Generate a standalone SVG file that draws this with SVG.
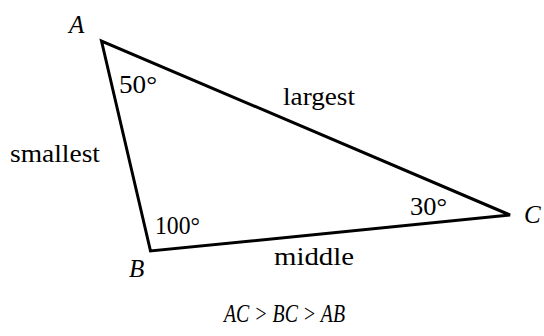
<svg xmlns="http://www.w3.org/2000/svg" width="544" height="336" viewBox="0 0 544 336">
<defs>
<style>
.edge{fill:none;stroke:#000;stroke-width:3;stroke-linejoin:miter}
.t{font-family:"Liberation Serif","Times New Roman",Times,serif;font-size:25px;fill:#000}
.i{font-style:italic}
</style>
</defs>
<rect width="544" height="336" fill="#fff"/>
<g id="connectors">
<polygon class="edge" points="101.5,41 150.5,251 510,215"/>
</g>
<g id="A"><text class="t i" x="69" y="33">A</text></g>
<g id="B"><text class="t i" x="129" y="277">B</text></g>
<g id="C"><text class="t i" x="524" y="223">C</text></g>
<g id="angleA"><text class="t" x="119" y="93" textLength="38" lengthAdjust="spacingAndGlyphs">50°</text></g>
<g id="angleB"><text class="t" x="155" y="234" textLength="45" lengthAdjust="spacingAndGlyphs">100°</text></g>
<g id="angleC"><text class="t" x="410" y="215" textLength="37" lengthAdjust="spacingAndGlyphs">30°</text></g>
<g id="labelAB"><text class="t" x="10" y="162" textLength="90" lengthAdjust="spacingAndGlyphs">smallest</text></g>
<g id="labelAC"><text class="t" x="283" y="105" textLength="72" lengthAdjust="spacingAndGlyphs">largest</text></g>
<g id="labelBC"><text class="t" x="274" y="265" textLength="80" lengthAdjust="spacingAndGlyphs">middle</text></g>
<g id="caption"><text class="t i" x="224" y="322" textLength="121" lengthAdjust="spacingAndGlyphs">AC &gt; BC &gt; AB</text></g>
</svg>
